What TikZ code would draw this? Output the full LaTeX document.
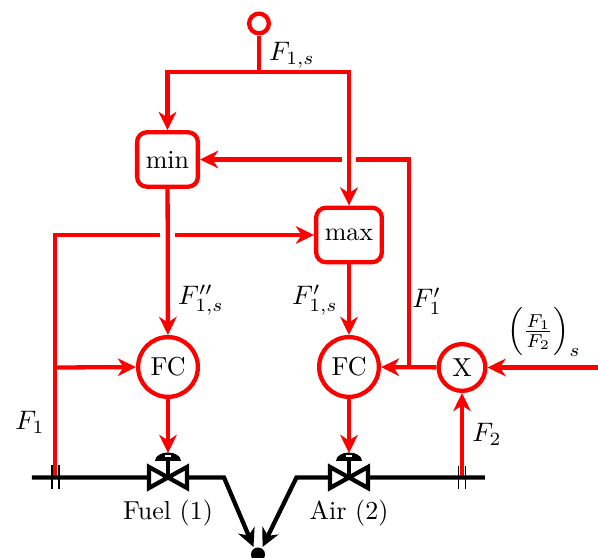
\documentclass[tikz,border=0pt]{standalone}
\usepackage{amsmath,amssymb}
\usepackage{tikz}
\usetikzlibrary{calc,arrows.meta}
\tikzset{
	signal/.style={draw=red,line width=1.65pt},
	sigarrow/.style={signal,-{Stealth[length=7pt,width=6.8pt,inset=2.2pt]}},
	pipe/.style={draw=black,line width=1.65pt},
	pipearrow/.style={pipe,-{Stealth[length=7pt,width=6.8pt,inset=2.2pt]}},
	controller/.style={circle,draw=red,line width=1.65pt,fill=white,minimum size=23pt,inner sep=0pt},
	multiplier/.style={circle,draw=red,line width=1.65pt,fill=white,minimum size=18pt,inner sep=0pt},
	selector/.style={rectangle,rounded corners=3.8pt,draw=red,line width=1.65pt,fill=white,minimum height=21pt,inner sep=0pt},
	setpoint/.style={circle,draw=red,line width=1.65pt,fill=white,minimum size=7.6pt,inner sep=0pt},
	tick/.style={draw=black,line width=0.4pt},
	mathlabel/.style={scale=1.03},
}
\begin{document}
\begin{tikzpicture}[x=0.385pt,y=-0.385pt]
	\useasboundingbox (0,0) rectangle (598,558);
	\node[setpoint] (sp) at (259,23.5) {}; %setpoint
	\node[selector,minimum width=23.4pt] (min) at (167.5,159.5) {min};
	\node[selector,minimum width=25.3pt] (max) at (349,235) {max};
	\node[controller] (fcone) at (168,367) {FC};
	\node[controller] (fctwo) at (349,367) {FC};
	\node[multiplier] (mul) at (462,367.5) {X};
	\coordinate (split) at (259,72);
	\coordinate (sensone) at (55,477.5); %Fuel
	\coordinate (senstwo) at (462,477.5); %Air
	\coordinate (vone) at (168,453);
	\coordinate (vtwo) at (349,453);
	\coordinate (ratio) at (598,367.5);
	\coordinate (fork) at (409,367.5);
	\coordinate (tee) at (55,367.5);
	\coordinate (corner) at (55,235);
	\coordinate (mix) at (258,554.5);
	% signal lines
	\draw[signal] (sp) -- (split);
	\draw[sigarrow] (split) -| (min);
	\draw[sigarrow] (split) -| (max);
	\draw[signal] (fork) |- (356,159.5);
	\draw[sigarrow] (342,159.5) -- (min);
	\draw[signal] (sensone) -- (corner) -- (160,235);
	\draw[sigarrow] (175,235) -- (max);
	\draw[sigarrow] (tee) -- (fcone);
	\draw[sigarrow] (min) -- (fcone);
	\draw[sigarrow] (max) -- (fctwo);
	\draw[sigarrow] (mul) -- (fctwo);
	\draw[sigarrow] (ratio) -- (mul);
	\draw[sigarrow] (senstwo) -- (mul);
	\draw[sigarrow] (fcone) -- (vone);
	\draw[sigarrow] (fctwo) -- (vtwo);
	% pipes
	\draw[pipearrow,line join=miter] (32,477.5) -- (224,477.5) -- (253.5,547);
	\draw[pipearrow,line join=miter] (485,477.5) -- (296.5,477.5) -- (262.5,547);
	\fill (mix) circle (2.7pt);
	\foreach \v in {168,349}{ %valves
		\draw[pipe,fill=white,line join=miter] (\v,477.5) -- (\v-19,467) -- (\v-19,488) -- cycle;
		\draw[pipe,fill=white,line join=miter] (\v,477.5) -- (\v+19,467) -- (\v+19,488) -- cycle;
		\draw[pipe] (\v,477.5) -- (\v,458);
		\fill (\v-13,461) arc (180:360:13 and 8.5) -- cycle;
		\draw[white,line width=0.4pt] (\v-3,456) -- (\v+3,456);
	}
	\foreach \t in {52,59}{ %Fuel sensor
		\draw[tick] (\t,465) -- (\t,489);
	}
	\foreach \t in {458.5,465.5}{ %Air sensor
		\draw[tick] (\t,466) -- (\t,489);
	}
	% labels
	\node[mathlabel] (lfs) at (292,55) {$F_{1,s}$};
	\node[mathlabel] (lfpp) at (201,300) {$F''_{1,s}$};
	\node[mathlabel] (lfp) at (315,300) {$F'_{1,s}$};
	\node[mathlabel] (lfq) at (427,301) {$F'_1$};
	\node[mathlabel] (lr) at (544,332) {$\left(\frac{F_1}{F_2}\right)_s$};
	\node[mathlabel] (lfone) at (30,422) {$F_1$};
	\node[mathlabel] (lftwo) at (487,434) {$F_2$};
	\node (lfuel) at (168,513) {Fuel (1)};
	\node (lair) at (349,513) {Air (2)};
\end{tikzpicture}
\end{document}
